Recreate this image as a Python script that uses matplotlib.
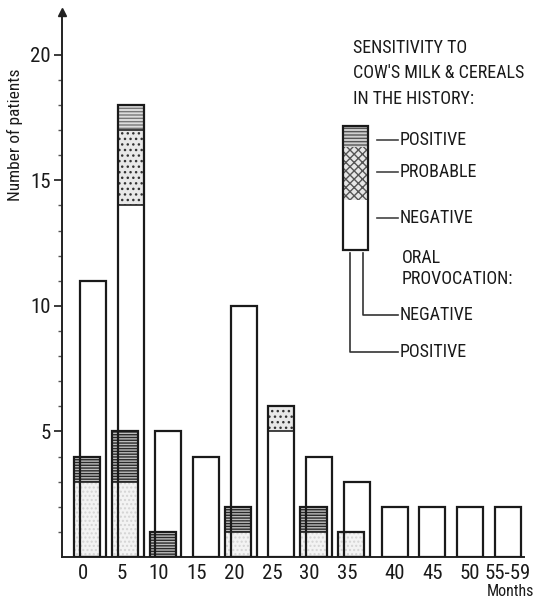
import matplotlib
matplotlib.use("Agg")
import matplotlib.pyplot as plt
from matplotlib.patches import Rectangle
import numpy as np

plt.rcParams['font.family'] = ['Roboto Condensed', 'DejaVu Sans']
plt.rcParams['hatch.linewidth'] = 1.0

# ---- data ----
groups = ["0", "5", "10", "15", "20", "25", "30", "35", "40", "45", "50", "55-59"]
# oral provocation NEGATIVE (back bars): history negative / probable / positive
neg_hist_negative = [11, 14, 5, 4, 10, 5, 4, 3, 2, 2, 2, 2]
neg_hist_probable = [0, 3, 0, 0, 0, 1, 0, 0, 0, 0, 0, 0]
neg_hist_positive = [0, 1, 0, 0, 0, 0, 0, 0, 0, 0, 0, 0]
# oral provocation POSITIVE (front bars): history negative / positive
pos_hist_negative = [3, 3, 0, 0, 1, 0, 1, 1, 0, 0, 0, 0]
pos_hist_positive = [1, 2, 1, 0, 1, 0, 1, 0, 0, 0, 0, 0]

fig = plt.figure(figsize=(5.55, 6.0), dpi=100)
fig.patch.set_facecolor('white')

W, H = 555, 600
ax_left, ax_bottom, ax_right, ax_top = 62, 557, 524, 12
ax = fig.add_axes([ax_left / W, (H - ax_bottom) / H,
                   (ax_right - ax_left) / W, (ax_bottom - ax_top) / H])
ax.set_facecolor('none')

x = np.arange(len(groups))
bw = 0.69
off = 0.15
lw = 1.6

def draw_stack(xpos, segs, ls='-'):
    bottom = np.zeros(len(xpos))
    for vals, fc, hatch, hc in segs:
        vals = np.array(vals, dtype=float)
        ax.bar(xpos, vals, bw, bottom=bottom, color=fc, hatch=hatch,
               edgecolor=hc, linewidth=0, zorder=2)
        bottom = bottom + vals
    tot = bottom
    b = np.zeros(len(xpos))
    for vals, fc, hatch, hc in segs[:-1]:
        b = b + np.array(vals, dtype=float)
        for xi, bi, ti in zip(xpos, b, tot):
            if 0 < bi < ti:
                ax.plot([xi - bw / 2, xi + bw / 2], [bi, bi], color='#222', lw=1.2, zorder=3)
    mask = tot > 0
    ax.bar(xpos[mask], tot[mask], bw, fill=False, edgecolor='#1a1a1a',
           linewidth=lw, linestyle=ls, zorder=3)

# back bars: provocation negative
draw_stack(x.astype(float), [
    (neg_hist_negative, 'white', None, 'white'),
    (neg_hist_probable, '#e8e8e8', '...', '#333333'),
    (neg_hist_positive, '#dcdcdc', '-----', '#777777'),
])
# front bars: provocation positive
draw_stack(x - off, [
    (pos_hist_negative, '#f3f3f3', '....', '#d4d4d4'),
    (pos_hist_positive, '#bdbdbd', '------', '#2a2a2a'),
])

ax.set_xlim(-0.82, (ax_right - 93) / 37.7)
ax.set_ylim(0, 21.7)

for s in ['top', 'right']:
    ax.spines[s].set_visible(False)
for s in ['left', 'bottom']:
    ax.spines[s].set_linewidth(1.4)
    ax.spines[s].set_color('#222')
ax.plot([-0.82], [21.7], marker='^', color='#222', markersize=6,
        clip_on=False, zorder=5)

ax.set_yticks([5, 10, 15, 20])
ax.set_yticks(np.arange(1, 21), minor=True)
ax.tick_params(axis='y', which='major', length=6, width=1.2, direction='out',
               labelsize=15, pad=2, colors='#1a1a1a')
ax.tick_params(axis='y', which='minor', length=3, width=1.0, direction='out', colors='#555')
label_x = [xi - 0.25 if i < 8 else xi for i, xi in enumerate(x)]
ax.set_xticks(label_x)
ax.set_xticklabels(groups)
ax.tick_params(axis='x', length=0, labelsize=15, pad=5, colors='#1a1a1a')

# ---- legend and labels drawn in pixel space ----
lg = fig.add_axes([0, 0, 1, 1])
lg.set_xlim(0, W)
lg.set_ylim(H, 0)
lg.axis('off')
lg.set_facecolor('none')

tc = '#1a1a1a'
lg.text(15, 135, "Number of patients", fontsize=12.5, rotation=90,
        va='center', ha='center', color=tc)

fs = 13
for txt, yy in [("SENSITIVITY TO", 48), ("COW'S MILK & CEREALS", 73), ("IN THE HISTORY:", 99)]:
    lg.text(353, yy, txt, fontsize=fs, va='center', ha='left', color=tc)

bx0, bx1 = 343, 368
lg.add_patch(Rectangle((bx0, 126), bx1 - bx0, 21, facecolor='#cfcfcf', hatch='-----',
                       edgecolor='#555', linewidth=0))
lg.add_patch(Rectangle((bx0, 147), bx1 - bx0, 53, facecolor='#e6e6e6', hatch='xxxx',
                       edgecolor='#555', linewidth=0))
lg.add_patch(Rectangle((bx0, 126), bx1 - bx0, 124, fill=False, edgecolor='#1a1a1a',
                       linewidth=lw))

for txt, yy in [("POSITIVE", 140), ("PROBABLE", 172), ("NEGATIVE", 218)]:
    lg.plot([377, 398], [yy, yy], color='#444', lw=1.2)
    lg.text(400, yy, txt, fontsize=fs, va='center', ha='left', color=tc)

lg.text(402, 258, "ORAL", fontsize=fs, va='center', ha='left', color=tc)
lg.text(402, 279, "PROVOCATION:", fontsize=fs, va='center', ha='left', color=tc)
lg.plot([363, 363, 398], [253, 315, 315], color='#333', lw=1.2)
lg.text(400, 315, "NEGATIVE", fontsize=fs, va='center', ha='left', color=tc)
lg.plot([350, 350, 398], [253, 352, 352], color='#333', lw=1.2)
lg.text(400, 352, "POSITIVE", fontsize=fs, va='center', ha='left', color=tc)

lg.text(510, 592, "Months", fontsize=11.5, va='center', ha='center', color=tc)

fig.savefig("out.png", dpi=100, facecolor='white')
